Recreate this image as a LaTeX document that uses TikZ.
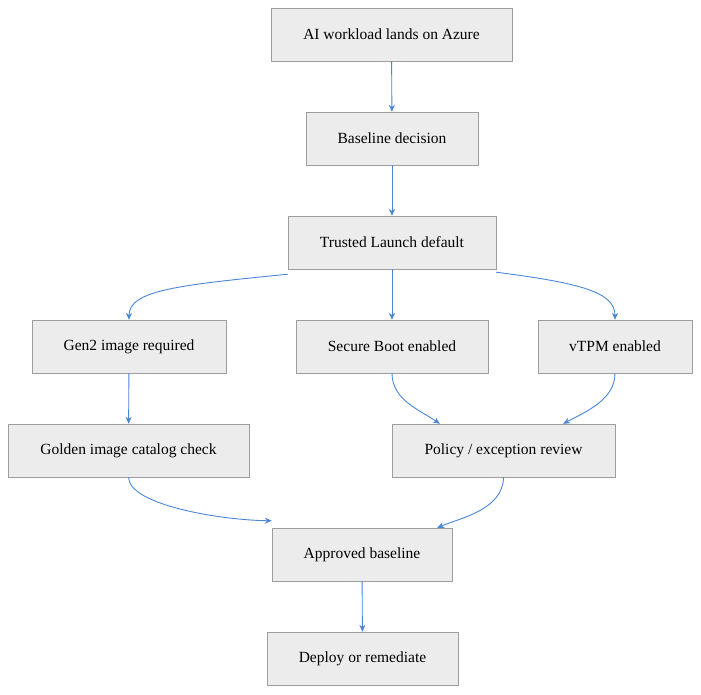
\documentclass[tikz,border=0pt]{standalone}
\usepackage{fontspec}
\setmainfont{Liberation Serif}
\usetikzlibrary{arrows.meta}
\definecolor{bx}{HTML}{ECECEC}
\definecolor{bd}{HTML}{9E9E9E}
\definecolor{ln}{HTML}{4A86D8}
\begin{document}
\begin{tikzpicture}[x=1pt,y=-1pt,
 box/.style={draw=bd,fill=bx,minimum height=53pt,inner sep=0pt,font=\fontsize{15.5}{18}\selectfont},
 arr/.style={draw=ln,line width=0.9pt,-{Stealth[length=7pt,width=6pt]}}]
\useasboundingbox (0,0) rectangle (701,694);
\node[box,minimum width=241pt] (A) at (391.5,34.5) {AI workload lands on Azure};
\node[box,minimum width=172pt] (B) at (392,138.5) {Baseline decision};
\node[box,minimum width=208pt] (C) at (392,242.5) {Trusted Launch default};
\node[box,minimum width=194pt] (D) at (129,346.5) {Gen2 image required};
\node[box,minimum width=192pt] (E) at (392,346.5) {Secure Boot enabled};
\node[box,minimum width=154pt] (F) at (615,346.5) {vTPM enabled};
\node[box,minimum width=241pt] (G) at (128.5,450.5) {Golden image catalog check};
\node[box,minimum width=223pt] (H) at (503.5,450.5) {Policy / exception review};
\node[box,minimum width=180pt] (I) at (362,554.5) {Approved baseline};
\node[box,minimum width=191pt] (J) at (362.5,658.5) {Deploy or remediate};
\draw[arr] (A) -- (B);
\draw[arr] (B) -- (C);
\draw[arr] (C) -- (E);
\draw[arr] ([yshift=-5pt]C.south west) .. controls (180,285) and (129,290) .. (D.north);
\draw[arr] ([yshift=-3pt]C.south east) .. controls (580,283) and (615,292) .. (F.north);
\draw[arr] (D) -- (G);
\draw[arr] (E.south) .. controls (392,400) and (420,410) .. ([xshift=48pt]H.north west);
\draw[arr] (F.south) .. controls (615,400) and (585,412) .. ([xshift=-52pt]H.north east);
\draw[arr] (G.south) .. controls (129,505) and (220,520) .. ([yshift=7pt]I.north west);
\draw[arr] ([xshift=0pt]H.south) .. controls (503,510) and (460,518) .. ([xshift=-15pt]I.north east);
\draw[arr] (I) -- (J);
\end{tikzpicture}
\end{document}
